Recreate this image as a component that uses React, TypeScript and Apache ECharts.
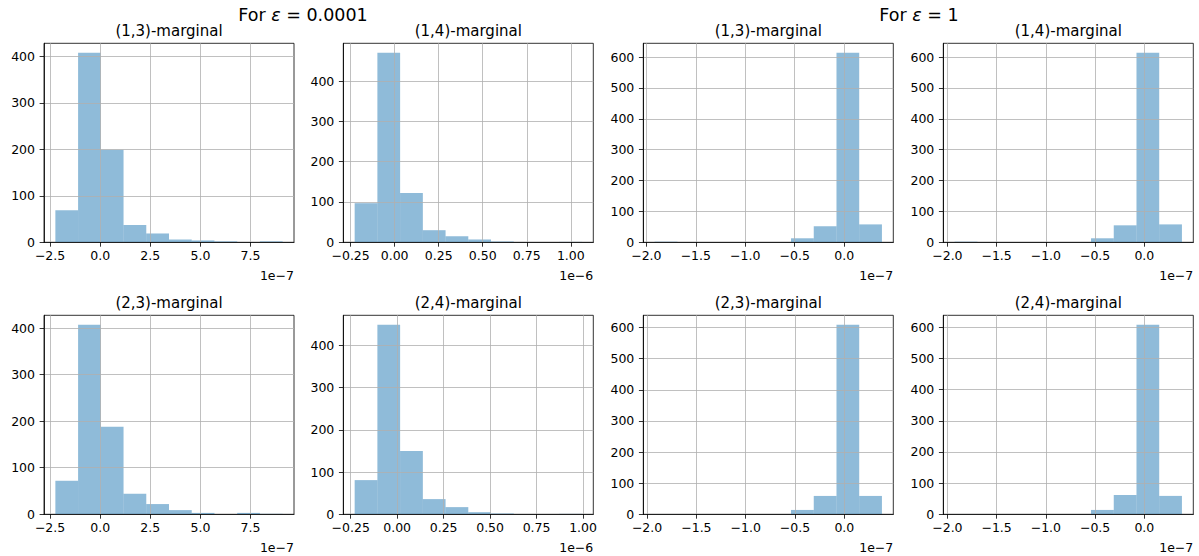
import React, { useEffect, useRef } from "react";
import * as echarts from "echarts";

// ---------- data ----------
const PANEL_TITLES = [
  "(1,3)-marginal", "(1,4)-marginal", "(1,3)-marginal", "(1,4)-marginal",
  "(2,3)-marginal", "(2,4)-marginal", "(2,3)-marginal", "(2,4)-marginal",
];
const SUPTITLE_LEFT_VALUE = "0.0001";
const SUPTITLE_RIGHT_VALUE = "1";

// histogram data ranges (in units of the offset factor)
const RANGE_13_SMALL = [-2.235, 9.1];
const RANGE_14_SMALL = [-0.227, 1.063];
const RANGE_13_ONE = [-1.916, 0.382];
const RANGE_14_ONE = [-1.926, 0.382];
const RANGE_23_SMALL = [-2.235, 9.1];
const RANGE_24_SMALL = [-0.2286, 0.994];
const RANGE_23_ONE = [-1.923, 0.381];
const RANGE_24_ONE = [-1.926, 0.382];

// counts per bin (10 bins)
const COUNTS_13_SMALL = [69, 408, 199, 37, 19, 6, 4, 2, 0, 2];
const COUNTS_14_SMALL = [97, 470, 122, 30, 15, 7, 2, 0, 0, 1];
const COUNTS_13_ONE = [2, 0, 0, 0, 0, 0, 13, 52, 614, 58];
const COUNTS_14_ONE = [2, 0, 0, 0, 0, 0, 13, 55, 614, 58];
const COUNTS_23_SMALL = [72, 407, 188, 44, 22, 9, 3, 0, 3, 1];
const COUNTS_24_SMALL = [81, 449, 150, 36, 17, 5, 2, 0, 0, 1];
const COUNTS_23_ONE = [1, 0, 0, 0, 0, 0, 14, 59, 609, 59];
const COUNTS_24_ONE = [1, 0, 0, 0, 0, 0, 14, 62, 608, 59];

// tick labels
const XTICKS_A = [-2.5, 0, 2.5, 5, 7.5];
const XTICKS_B = [-0.25, 0, 0.25, 0.5, 0.75, 1.0];
const XTICKS_C = [-2.0, -1.5, -1.0, -0.5, 0.0];
const YTICKS_400 = [0, 100, 200, 300, 400];
const YTICKS_600 = [0, 100, 200, 300, 400, 500, 600];
const OFFSET_7 = "1e\u22127";
const OFFSET_6 = "1e\u22126";

const PANELS = [
  { range: RANGE_13_SMALL, counts: COUNTS_13_SMALL, xt: XTICKS_A, dec: 1, yt: YTICKS_400, off: OFFSET_7 },
  { range: RANGE_14_SMALL, counts: COUNTS_14_SMALL, xt: XTICKS_B, dec: 2, yt: YTICKS_400, off: OFFSET_6 },
  { range: RANGE_13_ONE, counts: COUNTS_13_ONE, xt: XTICKS_C, dec: 1, yt: YTICKS_600, off: OFFSET_7 },
  { range: RANGE_14_ONE, counts: COUNTS_14_ONE, xt: XTICKS_C, dec: 1, yt: YTICKS_600, off: OFFSET_7 },
  { range: RANGE_23_SMALL, counts: COUNTS_23_SMALL, xt: XTICKS_A, dec: 1, yt: YTICKS_400, off: OFFSET_7 },
  { range: RANGE_24_SMALL, counts: COUNTS_24_SMALL, xt: XTICKS_B, dec: 2, yt: YTICKS_400, off: OFFSET_6 },
  { range: RANGE_23_ONE, counts: COUNTS_23_ONE, xt: XTICKS_C, dec: 1, yt: YTICKS_600, off: OFFSET_7 },
  { range: RANGE_24_ONE, counts: COUNTS_24_ONE, xt: XTICKS_C, dec: 1, yt: YTICKS_600, off: OFFSET_7 },
];

// ---------- layout / style ----------
const FONT = "'DejaVu Sans', 'Noto Sans', sans-serif";
const COL_LEFT = [44, 343.3, 643.3, 943.3];
const ROW_TOP = [43.3, 315.3];
const PW = 250;
const PH = 199;
const TICK_FS = 12.5;
const TITLE_FS = 15;
const SUP_FS = 17.5;
const BAR_FILL = "rgba(31,119,180,0.5)";
const GRID_COLOR = "#b0b0b0";

const fmt = (v: number, d: number) => {
  const s = (Math.abs(v) < 1e-12 ? 0 : v).toFixed(d);
  return s.replace("-", "\u2212");
};

function buildOption() {
  const grid: any[] = [];
  const xAxis: any[] = [];
  const yAxis: any[] = [];
  const series: any[] = [];
  const graphic: any[] = [];

  PANELS.forEach((p, i) => {
    const col = i % 4;
    const row = Math.floor(i / 4);
    const left = COL_LEFT[col];
    const top = ROW_TOP[row];
    grid.push({
      left, top, width: PW, height: PH,
      show: true, borderColor: "#000", borderWidth: 0.8,
      containLabel: false, outerBoundsMode: "none",
    });
    const [lo, hi] = p.range;
    const span = hi - lo;
    const nb = p.counts.length;
    const data = p.counts.map((c, k) => [lo + (span * k) / nb, lo + (span * (k + 1)) / nb, c]);
    const maxC = Math.max(...p.counts);
    xAxis.push({
      type: "value", gridIndex: i,
      min: lo - 0.05 * span, max: hi + 0.05 * span,
      z: 5,
      axisLine: { show: true, onZero: false, lineStyle: { color: "#000", width: 0.8 } },
      axisTick: { show: true, inside: false, length: 4.4, customValues: p.xt, lineStyle: { color: "#000", width: 0.8 } },
      axisLabel: {
        customValues: p.xt, color: "#000", fontSize: TICK_FS, fontFamily: FONT, margin: 7,
        formatter: (v: number) => fmt(v, p.dec),
      },
      splitLine: { show: true, customValues: p.xt, lineStyle: { color: GRID_COLOR, width: 0.8 } },
      name: p.off, nameLocation: "end", nameGap: 0,
      nameTextStyle: {
        color: "#000", fontSize: TICK_FS, fontFamily: FONT,
        align: "right", verticalAlign: "top", padding: [27, 0, 0, 0],
      },
    });
    yAxis.push({
      type: "value", gridIndex: i,
      min: 0, max: maxC * 1.05,
      z: 5,
      axisLine: { show: true, onZero: false, lineStyle: { color: "#000", width: 0.8 } },
      axisTick: { show: true, inside: false, length: 4.4, customValues: p.yt, lineStyle: { color: "#000", width: 0.8 } },
      axisLabel: {
        customValues: p.yt, color: "#000", fontSize: TICK_FS, fontFamily: FONT, margin: 9,
        formatter: (v: number) => String(Math.round(v)),
      },
      splitLine: { show: true, customValues: p.yt, lineStyle: { color: GRID_COLOR, width: 0.8 } },
    });
    series.push({
      type: "custom", xAxisIndex: i, yAxisIndex: i,
      z: 2,
      encode: { x: [0, 1], y: 2 },
      data,
      renderItem: (params: any, api: any) => {
        const x0 = api.value(0);
        const x1 = api.value(1);
        const c = api.value(2);
        if (!c) return null;
        const a = api.coord([x0, c]);
        const b = api.coord([x1, 0]);
        return {
          type: "rect",
          shape: { x: a[0], y: a[1], width: b[0] - a[0], height: b[1] - a[1] },
          style: { fill: BAR_FILL },
        };
      },
    });
    graphic.push({
      type: "text",
      x: left + PW / 2,
      y: top - 12,
      style: {
        text: PANEL_TITLES[i], fontSize: TITLE_FS, fontFamily: FONT, fill: "#000",
        align: "center", verticalAlign: "middle",
      },
    });
  });

  const sup = (value: string, cx: number) => ({
    type: "text",
    x: cx,
    y: 15,
    style: {
      text: `{n|For }{e|\u03b5}{n| = ${value}}`,
      align: "center",
      verticalAlign: "middle",
      rich: {
        n: { fontSize: SUP_FS, fontFamily: FONT, fill: "#000", fontStyle: "normal" },
        e: { fontSize: SUP_FS, fontFamily: FONT, fill: "#000", fontStyle: "italic" },
      },
    },
  });
  graphic.push(sup(SUPTITLE_LEFT_VALUE, 303));
  graphic.push(sup(SUPTITLE_RIGHT_VALUE, 919));

  return {
    animation: false,
    backgroundColor: "#fff",
    grid, xAxis, yAxis, series, graphic,
  };
}

export default function App() {
  const ref = useRef<HTMLDivElement>(null);
  useEffect(() => {
    if (!ref.current) return;
    const chart = echarts.init(ref.current, null, { renderer: "svg" });
    chart.setOption(buildOption() as any);
    return () => chart.dispose();
  }, []);
  return (
    <div
      ref={ref}
      style={{ position: "fixed", left: 0, top: 0, width: 1199, height: 556, background: "#fff" }}
    />
  );
}
